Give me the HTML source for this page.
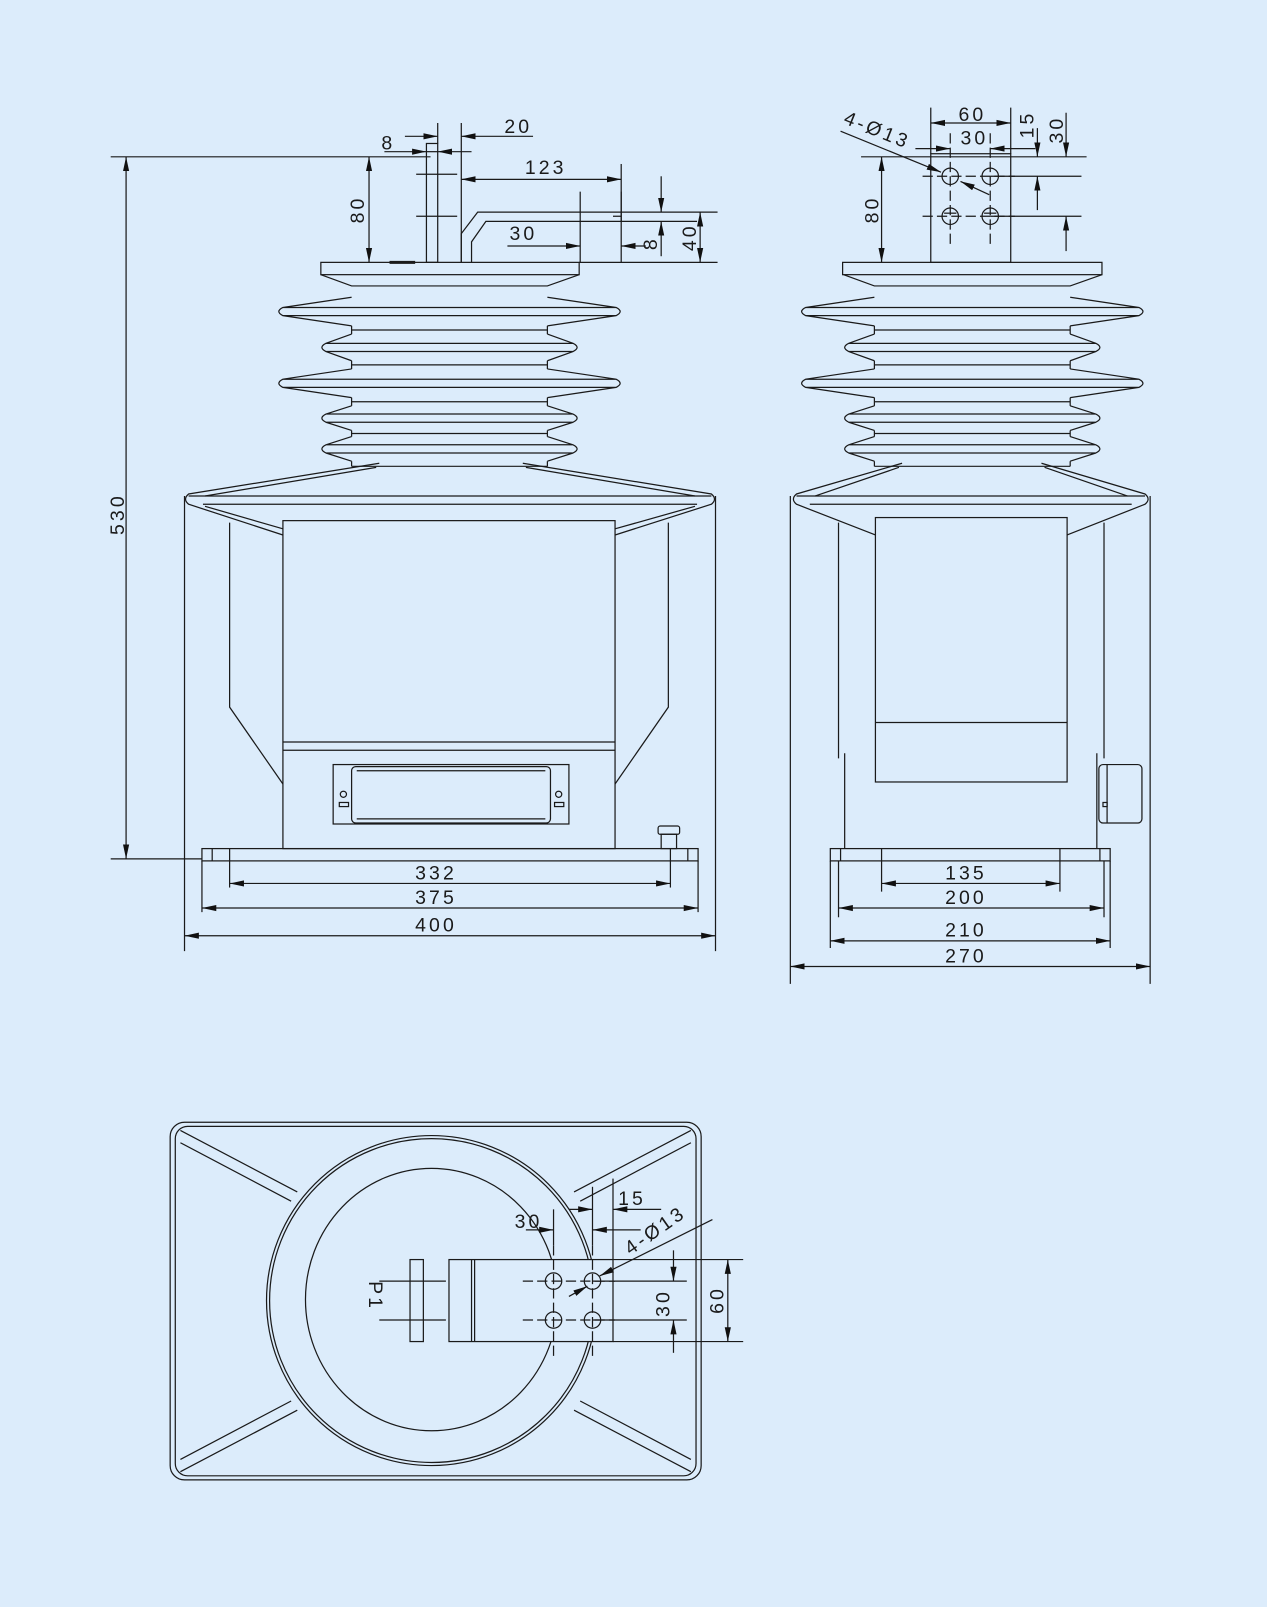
<!DOCTYPE html>
<html><head><meta charset="utf-8"><style>
html,body{margin:0;padding:0;background:#dcecfb;}
svg{display:block}
text{font-family:"Liberation Sans",sans-serif;font-size:19px;fill:#1a1a1a;letter-spacing:3px}
</style></head><body>
<svg width="1267" height="1607" viewBox="0 0 1236 1568" preserveAspectRatio="none" xmlns="http://www.w3.org/2000/svg">
<defs>
<marker id="a" viewBox="0 0 14 7" refX="14" refY="3.5" markerWidth="14" markerHeight="7" orient="auto-start-reverse" markerUnits="userSpaceOnUse"><path d="M0,0.5 L14,3.5 L0,6.5z" fill="#111"/></marker>
</defs>
<rect width="1236" height="1568" fill="#dcecfb"/>
<g fill="none" stroke="#1a1a1a" stroke-width="1.2">

<!-- ============ FRONT VIEW ============ -->
<line x1="108" y1="153" x2="420" y2="153"/>
<line x1="108" y1="838" x2="197" y2="838"/>
<line x1="123" y1="153" x2="123" y2="838" marker-start="url(#a)" marker-end="url(#a)"/>
<line x1="360" y1="153" x2="360" y2="256" marker-start="url(#a)" marker-end="url(#a)"/>
<rect x="416" y="140" width="11" height="116"/>
<line x1="406" y1="170" x2="446" y2="170"/>
<line x1="406" y1="211" x2="446" y2="211"/>
<line x1="416" y1="148" x2="427" y2="148"/>
<path d="M450,256 V228 L466,207 H700"/>
<path d="M460,256 V236 L474,216 H680"/>
<line x1="598" y1="211" x2="606" y2="211"/>
<line x1="606" y1="160" x2="606" y2="216"/>
<line x1="427" y1="120" x2="427" y2="140"/>
<line x1="450" y1="120" x2="450" y2="256"/>
<line x1="395" y1="133" x2="427" y2="133" marker-end="url(#a)"/>
<line x1="520" y1="133" x2="450" y2="133" marker-end="url(#a)"/>
<line x1="375" y1="148" x2="416" y2="148" marker-end="url(#a)"/>
<line x1="460" y1="148" x2="427" y2="148" marker-end="url(#a)"/>
<line x1="450" y1="175" x2="606" y2="175" marker-start="url(#a)" marker-end="url(#a)"/>
<line x1="566" y1="187" x2="566" y2="256"/>
<line x1="606" y1="187" x2="606" y2="256"/>
<line x1="495" y1="240" x2="566" y2="240" marker-end="url(#a)"/>
<line x1="630" y1="240" x2="606" y2="240" marker-end="url(#a)"/>
<line x1="645" y1="172" x2="645" y2="207" marker-end="url(#a)"/>
<line x1="645" y1="250" x2="645" y2="216" marker-end="url(#a)"/>
<line x1="683" y1="207" x2="683" y2="256" marker-start="url(#a)" marker-end="url(#a)"/>
<line x1="565" y1="256" x2="700" y2="256"/>
<rect x="313" y="256" width="252" height="12"/>
<line x1="380" y1="256" x2="405" y2="256" stroke-width="3"/>
<path d="M313,268 L343,279 H534 L565,268"/>
<g id="sh">
<path d="M343,290 L276,300 Q268,304 276,308 L343,318 M534,290 L601,300 Q609,304 601,308 L534,318 M276,300 H601 M276,308 H601"/>
<path d="M343,318 V326 M534,318 V326 M343,322 H534"/>
<path d="M343,326 L318,335 Q310,339 318,343 L343,352 M534,326 L559,335 Q567,339 559,343 L534,352 M318,335 H559 M318,343 H559"/>
<path d="M343,352 V360 M534,352 V360 M343,356 H534"/>
<path d="M343,360 L276,370 Q268,374 276,378 L343,388 M534,360 L601,370 Q609,374 601,378 L534,388 M276,370 H601 M276,378 H601"/>
<path d="M343,388 V396 M534,388 V396 M343,392 H534"/>
<path d="M343,396 L318,404 Q310,408 318,412 L343,420 M534,396 L559,404 Q567,408 559,412 L534,420 M318,404 H559 M318,412 H559"/>
<path d="M343,420 V426 M534,420 V426 M343,423 H534"/>
<path d="M343,426 L318,434 Q310,438 318,442 L343,450 M534,426 L559,434 Q567,438 559,442 L534,450 M318,434 H559 M318,442 H559"/>
<path d="M343,450 V455 M534,450 V455 M343,455 H534"/>
</g>
<path d="M370,452 L184,482 Q178,487 184,492 L276,522 M367,456 L200,484"/>
<path d="M510,452 L694,482 Q700,487 694,492 L600,522 M513,456 L678,484"/>
<line x1="184" y1="484" x2="694" y2="484"/>
<line x1="198" y1="492" x2="680" y2="492"/>
<line x1="200" y1="494" x2="276" y2="516"/>
<line x1="678" y1="494" x2="600" y2="516"/>
<line x1="180" y1="484" x2="180" y2="928"/>
<line x1="698" y1="484" x2="698" y2="928"/>
<path d="M224,510 V690 L276,765"/>
<path d="M652,510 V690 L600,765"/>
<rect x="276" y="508" width="324" height="320"/>
<line x1="276" y1="724" x2="600" y2="724"/>
<line x1="276" y1="732" x2="600" y2="732"/>
<rect x="325" y="746" width="230" height="58"/>
<rect x="343" y="748" width="194" height="55" rx="4"/>
<line x1="348" y1="752" x2="532" y2="752"/>
<line x1="348" y1="799" x2="532" y2="799"/>
<circle cx="335" cy="775" r="3"/><rect x="331" y="783" width="9" height="4"/>
<circle cx="545" cy="775" r="3"/><rect x="541" y="783" width="9" height="4"/>
<rect x="197" y="828" width="484" height="12"/>
<line x1="207" y1="828" x2="207" y2="840"/><line x1="671" y1="828" x2="671" y2="840"/>
<line x1="224" y1="828" x2="224" y2="866"/><line x1="654" y1="828" x2="654" y2="866"/>
<line x1="197" y1="840" x2="197" y2="890"/><line x1="681" y1="840" x2="681" y2="890"/>
<rect x="642" y="806" width="21" height="8" rx="2"/><rect x="645" y="814" width="15" height="14"/>
<line x1="224" y1="862" x2="654" y2="862" marker-start="url(#a)" marker-end="url(#a)"/>
<line x1="197" y1="886" x2="681" y2="886" marker-start="url(#a)" marker-end="url(#a)"/>
<line x1="180" y1="913" x2="698" y2="913" marker-start="url(#a)" marker-end="url(#a)"/>

<!-- ============ SIDE VIEW ============ -->
<rect x="908" y="150" width="78" height="106"/>
<line x1="908" y1="105" x2="908" y2="150"/><line x1="986" y1="105" x2="986" y2="150"/>
<line x1="908" y1="120" x2="986" y2="120" marker-start="url(#a)" marker-end="url(#a)"/>
<line x1="893" y1="145" x2="927" y2="145" marker-end="url(#a)"/>
<line x1="1010" y1="145" x2="966" y2="145" marker-end="url(#a)"/>
<line x1="840" y1="153" x2="1060" y2="153"/>
<line x1="860" y1="153" x2="860" y2="256" marker-start="url(#a)" marker-end="url(#a)"/>
<line x1="1012" y1="125" x2="1012" y2="153" marker-end="url(#a)"/>
<line x1="1012" y1="205" x2="1012" y2="172" marker-end="url(#a)"/>
<line x1="1040" y1="110" x2="1040" y2="153" marker-end="url(#a)"/>
<line x1="1040" y1="245" x2="1040" y2="211" marker-end="url(#a)"/>
<line x1="966" y1="172" x2="1055" y2="172"/><line x1="966" y1="211" x2="1055" y2="211"/>
<g stroke-dasharray="10,4">
<line x1="900" y1="172" x2="990" y2="172"/><line x1="900" y1="211" x2="990" y2="211"/>
<line x1="927" y1="130" x2="927" y2="240"/><line x1="966" y1="130" x2="966" y2="240"/>
</g>
<circle cx="927" cy="172" r="8"/><circle cx="966" cy="172" r="8"/>
<circle cx="927" cy="211" r="8"/><circle cx="966" cy="211" r="8"/>
<line x1="921" y1="208" x2="933" y2="208"/><line x1="960" y1="208" x2="972" y2="208"/>
<line x1="820" y1="128" x2="918" y2="168" marker-end="url(#a)"/>
<line x1="965" y1="190" x2="937" y2="177" marker-end="url(#a)"/>
<rect x="822" y="256" width="253" height="12"/>
<g transform="translate(510,0)"><path d="M313,268 L343,279 H534 L565,268"/></g>
<use href="#sh" transform="translate(510,0)"/>
<path d="M880,452 L777,482 Q771,487 777,492 L854,522 M877,456 L795,484"/>
<path d="M1016,452 L1117,482 Q1123,487 1117,492 L1041,522 M1019,456 L1100,484"/>
<line x1="777" y1="484" x2="1117" y2="484"/>
<line x1="790" y1="492" x2="1104" y2="492"/>
<line x1="771" y1="484" x2="771" y2="960"/>
<line x1="1122" y1="484" x2="1122" y2="960"/>
<path d="M818,510 V740 M824,735 V828"/>
<path d="M1077,510 V740 M1070,735 V828"/>
<rect x="854" y="505" width="187" height="258"/>
<line x1="854" y1="705" x2="1041" y2="705"/>
<rect x="1072" y="746" width="42" height="57" rx="4"/>
<line x1="1080" y1="746" x2="1080" y2="803"/>
<rect x="1076" y="783" width="4" height="4"/>
<rect x="810" y="828" width="273" height="12"/>
<line x1="820" y1="828" x2="820" y2="840"/><line x1="1073" y1="828" x2="1073" y2="840"/>
<line x1="860" y1="828" x2="860" y2="870"/><line x1="1034" y1="828" x2="1034" y2="870"/>
<line x1="818" y1="840" x2="818" y2="895"/><line x1="1077" y1="840" x2="1077" y2="895"/>
<line x1="810" y1="840" x2="810" y2="925"/><line x1="1083" y1="840" x2="1083" y2="925"/>
<line x1="860" y1="862" x2="1034" y2="862" marker-start="url(#a)" marker-end="url(#a)"/>
<line x1="818" y1="886" x2="1077" y2="886" marker-start="url(#a)" marker-end="url(#a)"/>
<line x1="810" y1="918" x2="1083" y2="918" marker-start="url(#a)" marker-end="url(#a)"/>
<line x1="771" y1="943" x2="1122" y2="943" marker-start="url(#a)" marker-end="url(#a)"/>

<!-- ============ TOP VIEW ============ -->
<rect x="166" y="1095" width="518" height="349" rx="14"/>
<rect x="171" y="1099" width="508" height="341" rx="12"/>
<ellipse cx="421" cy="1269" rx="161" ry="161"/>
<ellipse cx="421" cy="1269" rx="158" ry="158"/>
<ellipse cx="421" cy="1268" rx="123" ry="128"/>
<path d="M176,1103 L290,1163 M176,1115 L284,1172"/>
<path d="M674,1103 L560,1163 M674,1115 L566,1172"/>
<path d="M176,1436 L290,1376 M176,1424 L284,1367"/>
<path d="M674,1436 L560,1376 M674,1424 L566,1367"/>
<rect x="400" y="1229" width="13" height="80"/>
<line x1="370" y1="1250" x2="435" y2="1250"/><line x1="370" y1="1288" x2="435" y2="1288"/>
<rect x="438" y="1229" width="160" height="80" fill="#dcecfb"/>
<line x1="460" y1="1229" x2="460" y2="1309"/><line x1="463" y1="1229" x2="463" y2="1309"/>
<g stroke-dasharray="10,4">
<line x1="510" y1="1250" x2="600" y2="1250"/><line x1="510" y1="1288" x2="600" y2="1288"/>
<line x1="540" y1="1215" x2="540" y2="1325"/><line x1="578" y1="1215" x2="578" y2="1325"/>
</g>
<circle cx="540" cy="1250" r="8"/><circle cx="578" cy="1250" r="8"/>
<circle cx="540" cy="1288" r="8"/><circle cx="578" cy="1288" r="8"/>
<line x1="598" y1="1229" x2="725" y2="1229"/><line x1="598" y1="1309" x2="725" y2="1309"/>
<line x1="578" y1="1250" x2="670" y2="1250"/><line x1="578" y1="1288" x2="670" y2="1288"/>
<line x1="657" y1="1220" x2="657" y2="1250" marker-end="url(#a)"/>
<line x1="657" y1="1320" x2="657" y2="1288" marker-end="url(#a)"/>
<line x1="710" y1="1229" x2="710" y2="1309" marker-start="url(#a)" marker-end="url(#a)"/>
<line x1="540" y1="1180" x2="540" y2="1215"/><line x1="578" y1="1158" x2="578" y2="1215"/>
<line x1="598" y1="1150" x2="598" y2="1229"/>
<line x1="513" y1="1200" x2="540" y2="1200" marker-end="url(#a)"/>
<line x1="625" y1="1200" x2="578" y2="1200" marker-end="url(#a)"/>
<line x1="555" y1="1180" x2="578" y2="1180" marker-end="url(#a)"/>
<line x1="645" y1="1180" x2="598" y2="1180" marker-end="url(#a)"/>
<line x1="695" y1="1190" x2="585" y2="1245" marker-end="url(#a)"/>
<line x1="555" y1="1265" x2="573" y2="1255" marker-end="url(#a)"/>
</g>

<text x="372" y="146">8</text>
<text x="492" y="130">20</text>
<text x="512" y="170">123</text>
<text x="497" y="234">30</text>
<text transform="translate(355,218) rotate(-90)">80</text>
<text transform="translate(641,244) rotate(-90)">8</text>
<text transform="translate(679,245) rotate(-90)">40</text>
<text transform="translate(121,522) rotate(-90)">530</text>
<text x="405" y="858">332</text>
<text x="405" y="882">375</text>
<text x="405" y="909">400</text>
<text x="935" y="118">60</text>
<text x="937" y="141">30</text>
<text transform="translate(1008,135) rotate(-90)">15</text>
<text transform="translate(1037,140) rotate(-90)">30</text>
<text transform="translate(857,218) rotate(-90)">80</text>
<text transform="translate(822,120) rotate(22)">4-Ø13</text>
<text x="922" y="858">135</text>
<text x="922" y="882">200</text>
<text x="922" y="914">210</text>
<text x="922" y="939">270</text>
<text x="502" y="1198">30</text>
<text x="603" y="1176">15</text>
<text transform="translate(615,1225) rotate(-35)">4-Ø13</text>
<text transform="translate(653,1285) rotate(-90)">30</text>
<text transform="translate(706,1282) rotate(-90)">60</text>
<text transform="translate(360,1250) rotate(90)">P1</text>
</svg>
</body></html>
